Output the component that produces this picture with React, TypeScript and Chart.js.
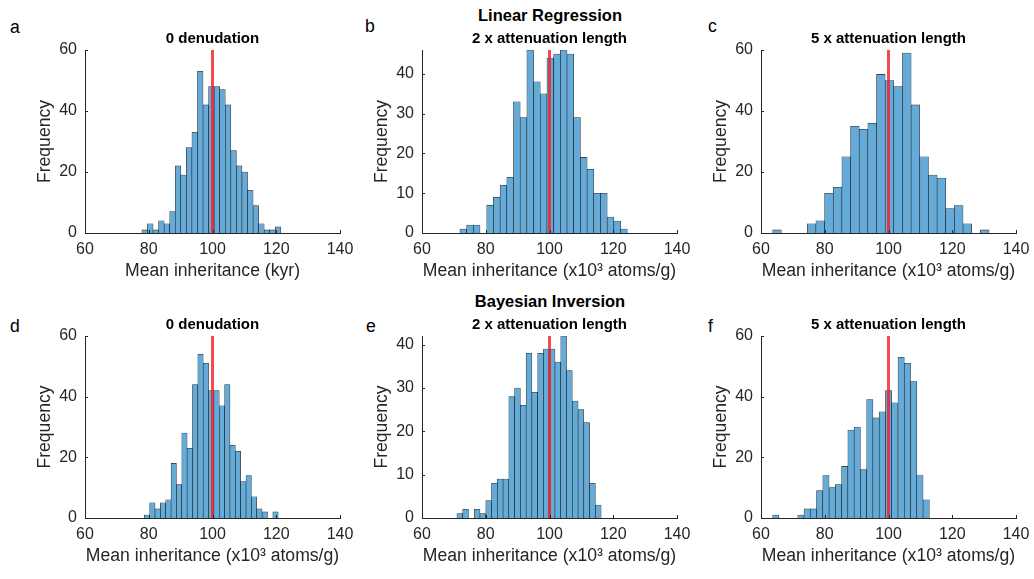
import React, { useEffect, useRef } from "react";
import { Chart, registerables } from "chart.js";

Chart.register(...registerables);

// ---------- data ----------
const xMin = 60;
const xMax = 140;
const xTickStep = 20;
const trueInheritance = 100;

const countsA = [1, 3, 1, 4, 3, 7, 22, 19, 28, 33, 53, 42, 48, 48, 47, 42, 27, 22, 20, 14, 9, 3, 1, 1, 2];
const binStartA = 77.85;
const binWidthA = 1.744;

const countsB = [1, 2, 2, 0, 7, 9, 12, 14, 33, 29, 46, 38, 35, 44, 45, 46, 45, 29, 19, 16, 10, 10, 4, 3, 1];
const binStartB = 71.9;
const binWidthB = 2.1;

const countsC = [1, 0, 0, 0, 3, 4, 13, 15, 25, 35, 34, 36, 52, 50, 48, 59, 42, 25, 19, 18, 8, 9, 3, 0, 1];
const binStartC = 63.66;
const binWidthC = 2.715;

const countsD = [1, 5, 3, 5, 6, 18, 11, 28, 23, 44, 54, 51, 42, 42, 37, 44, 24, 22, 12, 14, 7, 3, 2, 0, 2];
const binStartD = 78.6;
const binWidthD = 1.68;

const countsE = [1, 2, 0, 2, 1, 4, 8, 9, 9, 28, 30, 26, 38, 29, 38, 39, 39, 36, 42, 34, 27, 25, 22, 8, 3];
const binStartE = 70.95;
const binWidthE = 1.81;

const countsF = [1, 0, 0, 0, 1, 3, 3, 9, 14, 10, 11, 17, 29, 30, 16, 39, 33, 35, 42, 38, 53, 51, 45, 14, 6];
const binStartF = 63.66;
const binWidthF = 1.966;

const yMaxes = [60, 46, 60, 60, 42, 60];
const yTickSteps = [20, 10, 20, 20, 10, 20];

const panelLetters = ["a", "b", "c", "d", "e", "f"];
const panelTitles = [
  "0 denudation",
  "2 x attenuation length",
  "5 x attenuation length",
  "0 denudation",
  "2 x attenuation length",
  "5 x attenuation length",
];
const xAxisLabels = [
  "Mean inheritance (kyr)",
  "Mean inheritance (x10³ atoms/g)",
  "Mean inheritance (x10³ atoms/g)",
  "Mean inheritance (x10³ atoms/g)",
  "Mean inheritance (x10³ atoms/g)",
  "Mean inheritance (x10³ atoms/g)",
];
const yAxisLabel = "Frequency";
const groupTitles = ["Linear Regression", "Bayesian Inversion"];

const allCounts = [countsA, countsB, countsC, countsD, countsE, countsF];
const allBinStarts = [binStartA, binStartB, binStartC, binStartD, binStartE, binStartF];
const allBinWidths = [binWidthA, binWidthB, binWidthC, binWidthD, binWidthE, binWidthF];

// ---------- layout / style ----------
const FONT = "'Liberation Sans', Arial, Helvetica, sans-serif";
const AXIS_COLOR = "#262626";
const BAR_COLOR = "#66aad7";
const colLefts = [85, 422, 761];
const plotW = 255;
const rowTops = [50, 336];
const rowHeights = [183, 182];
const LEFT_SPACE = 50;
const RIGHT_SPACE = 18;
const TITLE_SPACE = 21;
const BOTTOM_SPACE = 50;
const letterPos = [
  [10, 18.6], [365, 18], [708, 18],
  [10, 318], [366, 318], [708, 318],
];
const groupTitleTops = [6.7, 292.7];
const groupTitleCenter = 550;

const inwardTicks = {
  id: "inwardTicks",
  afterDraw(chart: any) {
    const { ctx, chartArea, scales } = chart;
    const xs = scales.x;
    const ys = scales.y;
    ctx.save();
    ctx.strokeStyle = AXIS_COLOR;
    ctx.lineWidth = 1;
    xs.ticks.forEach((t: any) => {
      const px = Math.round(xs.getPixelForValue(t.value)) + 0.5;
      ctx.beginPath();
      ctx.moveTo(px, chartArea.bottom);
      ctx.lineTo(px, chartArea.bottom - 3);
      ctx.stroke();
    });
    ys.ticks.forEach((t: any) => {
      const py = Math.round(ys.getPixelForValue(t.value)) + 0.5;
      ctx.beginPath();
      ctx.moveTo(chartArea.left, py);
      ctx.lineTo(chartArea.left + 3, py);
      ctx.stroke();
    });
    ctx.restore();
  },
};

function Panel({ index }: { index: number }) {
  const ref = useRef<HTMLCanvasElement>(null);
  const col = index % 3;
  const row = Math.floor(index / 3);
  const plotH = rowHeights[row];
  const left = colLefts[col] - LEFT_SPACE;
  const top = rowTops[row] - TITLE_SPACE;
  const width = plotW + LEFT_SPACE + RIGHT_SPACE;
  const height = TITLE_SPACE + plotH + BOTTOM_SPACE;

  useEffect(() => {
    const counts = allCounts[index];
    const start = allBinStarts[index];
    const w = allBinWidths[index];
    const yMax = yMaxes[index];
    const barData = counts.map((c, i) => ({ x: start + (i + 0.5) * w, y: c }));
    const chart = new Chart(ref.current as HTMLCanvasElement, {
      type: "bar",
      data: {
        datasets: [
          {
            type: "bar",
            data: barData as any,
            backgroundColor: BAR_COLOR,
            borderColor: "rgba(0,0,0,0.85)",
            borderWidth: 0.6,
            barPercentage: 1,
            categoryPercentage: 1,
            order: 2,
          } as any,
          {
            type: "line",
            data: [
              { x: trueInheritance, y: 0 },
              { x: trueInheritance, y: yMax },
            ] as any,
            borderColor: "rgba(240,30,40,0.8)",
            borderWidth: 3,
            pointRadius: 0,
            order: 1,
          } as any,
        ],
      },
      options: {
        responsive: false,
        animation: false,
        devicePixelRatio: 1,
        layout: { padding: { left: 0, right: RIGHT_SPACE, top: 0, bottom: 0 } },
        plugins: {
          legend: { display: false },
          tooltip: { enabled: false },
          title: {
            display: true,
            text: panelTitles[index],
            fullSize: false,
            color: "#000",
            font: { family: FONT, size: 15, weight: "bold" },
            padding: { top: 1, bottom: 2 },
          } as any,
        },
        scales: {
          x: {
            type: "linear",
            min: xMin,
            max: xMax,
            offset: false,
            grid: { display: false, drawTicks: false, offset: false },
            border: { display: true, color: AXIS_COLOR, width: 1 },
            ticks: {
              stepSize: xTickStep,
              color: AXIS_COLOR,
              font: { family: FONT, size: 16 },
              padding: 7,
              maxRotation: 0,
              autoSkip: false,
            },
            title: {
              display: true,
              text: xAxisLabels[index],
              color: AXIS_COLOR,
              font: { family: FONT, size: 17.6 },
              padding: { top: 0, bottom: 1 },
            },
            afterFit: (s: any) => {
              s.height = BOTTOM_SPACE;
              s.paddingLeft = 0;
              s.paddingRight = 0;
            },
          } as any,
          y: {
            type: "linear",
            min: 0,
            max: yMax,
            grid: { display: false, drawTicks: false },
            border: { display: true, color: AXIS_COLOR, width: 1 },
            ticks: {
              stepSize: yTickSteps[index],
              includeBounds: false,
              color: AXIS_COLOR,
              font: { family: FONT, size: 16 },
              padding: 8,
            },
            title: {
              display: true,
              text: yAxisLabel,
              color: AXIS_COLOR,
              font: { family: FONT, size: 17.6 },
              padding: { top: 0, bottom: 0 },
            },
            afterFit: (s: any) => {
              s.width = LEFT_SPACE;
              s.paddingTop = 0;
              s.paddingBottom = 0;
            },
          } as any,
        },
      },
      plugins: [inwardTicks],
    });
    return () => chart.destroy();
  }, [index]);

  return (
    <canvas
      ref={ref}
      width={width}
      height={height}
      style={{ position: "absolute", left, top, width, height }}
    />
  );
}

export default function App() {
  return (
    <div
      style={{
        position: "absolute",
        left: 0,
        top: 0,
        width: 1034,
        height: 579,
        background: "#fff",
        overflow: "hidden",
        fontFamily: FONT,
      }}
    >
      {groupTitles.map((t, i) => (
        <div
          key={t}
          style={{
            position: "absolute",
            left: groupTitleCenter,
            top: groupTitleTops[i],
            transform: "translateX(-50%)",
            whiteSpace: "nowrap",
            fontSize: 16.5,
            lineHeight: "16.5px",
            fontWeight: "bold",
            color: "#000",
          }}
        >
          {t}
        </div>
      ))}
      {panelLetters.map((l, i) => (
        <div
          key={l}
          style={{
            position: "absolute",
            left: letterPos[i][0],
            top: letterPos[i][1],
            fontSize: 17.6,
            lineHeight: "17.6px",
            color: "#000",
          }}
        >
          {l}
        </div>
      ))}
      {[0, 1, 2, 3, 4, 5].map((i) => (
        <Panel key={i} index={i} />
      ))}
    </div>
  );
}
